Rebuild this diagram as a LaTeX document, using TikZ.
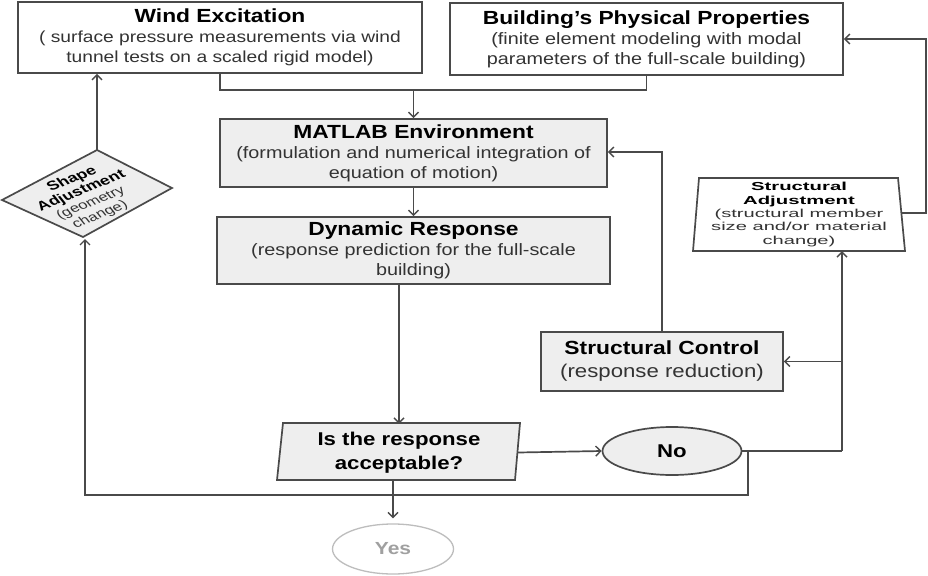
\documentclass[tikz,border=0pt]{standalone}
\usepackage{fontspec}
\setmainfont[FakeStretch=1.2]{Liberation Sans}
\newfontfamily\wideA[FakeStretch=1.75]{Liberation Sans}
\newfontfamily\plainA{Liberation Sans}
\usetikzlibrary{arrows.meta,shapes.geometric}
\definecolor{ln}{HTML}{4A4A4A}
\definecolor{gfill}{HTML}{EEEEEE}
\definecolor{subc}{HTML}{333333}
\definecolor{yesc}{HTML}{A0A0A0}
\newcommand\ttlA{\fontsize{19}{20}\selectfont\bfseries\color{black}}
\newcommand\ttlS{\wideA\fontsize{11.6}{13.3}\selectfont\bfseries\color{black}}
\newcommand\ttlD{\plainA\fontsize{12.8}{13.5}\selectfont\bfseries\color{black}}
\begin{document}
\begin{tikzpicture}[x=1pt,y=-1pt,
  conn/.style={draw=ln, line width=1.7pt},
  arr/.style={conn, -{Straight Barb[length=5pt,width=10pt,line width=1.4pt]}},
  box/.style={draw=ln, line width=1.7pt, align=center, inner sep=0pt, fill=white,
    font=\fontsize{16.5}{20}\selectfont, text=subc},
  gbox/.style={box, fill=gfill},
  txt/.style={align=center, inner sep=0pt},
  small/.style={txt, font=\wideA\fontsize{11.5}{13.3}\selectfont, text=subc},
  dsmall/.style={txt, font=\plainA\fontsize{12}{13.5}\selectfont, text=subc}]
\useasboundingbox (0,0) rectangle (928,575);
\fill[white] (0,0) rectangle (928,575);

% top boxes
\node[box, minimum width=404pt, minimum height=71pt, font=\fontsize{16}{20}\selectfont] (wind) at (220,37.5)
  {{\ttlA Wind Excitation}\\ ( surface pressure measurements via wind\\ tunnel tests on a scaled rigid model)};
\node[box, minimum width=393pt, minimum height=72pt] (bldg) at (646.5,39)
  {{\ttlA Building’s Physical Properties}\\ (finite element modeling with modal\\ parameters of the full-scale building)};

% middle boxes
\node[gbox, minimum width=387pt, minimum height=68pt] (matlab) at (413.5,153)
  {{\ttlA MATLAB Environment}\\ (formulation and numerical integration of\\ equation of motion)};
\node[gbox, minimum width=393pt, minimum height=67pt] (dyn) at (413.5,250.5)
  {{\ttlA Dynamic Response}\\ (response prediction for the full-scale\\ building)};
\node[gbox, minimum width=242pt, minimum height=59pt, font=\fontsize{18.5}{23}\selectfont] (sc) at (662,361.5)
  {{\ttlA Structural Control}\\ (response reduction)};

% decision parallelogram
\draw[conn, fill=gfill] (283,423) -- (520,423) -- (515,480) -- (277,480) -- cycle;
\node[txt, minimum width=238pt, minimum height=57pt, font=\fontsize{18.5}{24}\selectfont\bfseries] (is) at (399,452.5)
  {Is the response\\ acceptable?};

% No / Yes
\node[gbox, ellipse, minimum width=139pt, minimum height=48pt, font=\fontsize{18.5}{20}\selectfont\bfseries, text=black] (no) at (672,451)
  {No};
\node[box, ellipse, draw=yesc!70, line width=1.3pt, minimum width=121pt, minimum height=50pt, font=\fontsize{17.5}{18}\selectfont\bfseries, text=yesc] (yes) at (393,549)
  {Yes};

% structural adjustment trapezoid
\draw[conn, fill=white] (699,178) -- (898,178) -- (905,251) -- (693,251) -- cycle;
\node[small, minimum width=206pt, minimum height=73pt] (sadj) at (799,214.5)
  {{\ttlS Structural}\\ {\ttlS Adjustment}\\ (structural member\\ size and/or material\\ change)};

% shape adjustment diamond
\draw[conn, fill=gfill] (97,150) -- (172,188) -- (83,237) -- (2,200) -- cycle;
\begin{scope}[shift={(86,197)}, xscale=1.4, rotate=29.5]
  \node[dsmall, transform shape] (shape) at (0,0)
    {{\ttlD Shape}\\ {\ttlD Adjustment}\\ (geometry\\ change)};
\end{scope}
\coordinate (shtop) at (97,150);
\coordinate (shbot) at (85,239);

% junctions
\coordinate (j1) at (413.5,90);
\coordinate (r0) at (748,451);
\coordinate (r1) at (842,451);
\coordinate (l1) at (85,495);
\coordinate (t1) at (662,152);
\coordinate (q1) at (926,213);

% connectors
\draw[conn] (wind.south) |- (j1);
\draw[conn] (bldg.south) |- (j1);
\draw[arr] (j1) -- (matlab.north);
\draw[arr] (matlab.south) -- (dyn.north);
\draw[arr] (dyn.south -| is.north) -- (is.north);
\draw[arr, shorten >=5pt] (is.south -| yes.north) -- (yes.north);
\draw[arr] (is.east) -- (no.west);
\draw[conn] (no.east) -- (r1);
\draw[arr] (r1) -- (r1 |- sadj.south);
\draw[arr] (r1 |- sc.east) -- (sc.east);
\draw[arr] (r0) |- (l1) -- (shbot);
\draw[arr] (shtop) -- (shtop |- wind.south);
\draw[arr] (sc.north) -- (t1) -- (matlab.east |- t1);
\draw[arr] (sadj.east |- q1) -- (q1) |- (bldg.east);
\end{tikzpicture}
\end{document}
